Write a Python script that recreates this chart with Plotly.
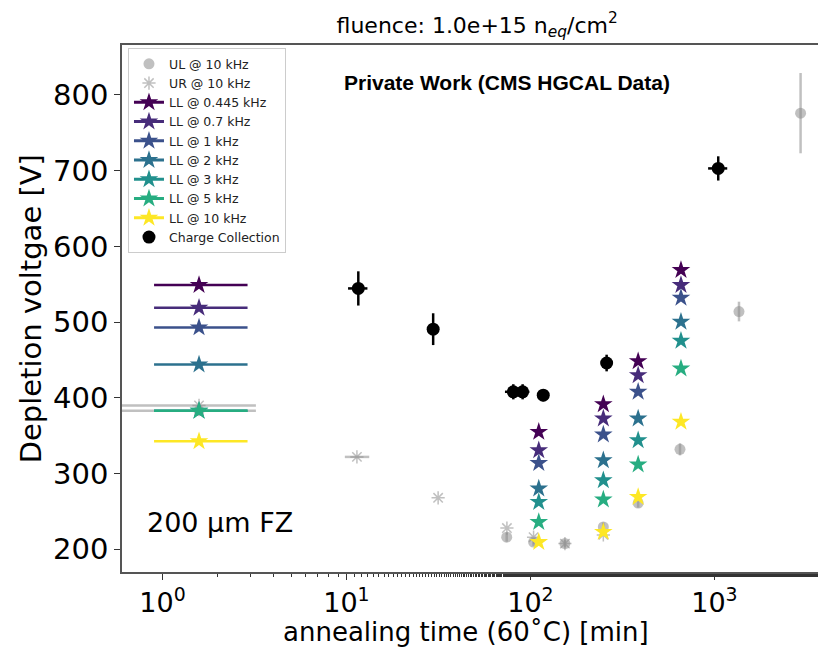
import plotly.graph_objects as go

# ---------------- data ----------------
ll_labels = ["LL @ 0.445 kHz", "LL @ 0.7 kHz", "LL @ 1 kHz", "LL @ 2 kHz",
             "LL @ 3 kHz", "LL @ 5 kHz", "LL @ 10 kHz"]
ll_colors = ["#440154", "#472c7a", "#3b518b", "#2c718e", "#21908d", "#27ad81", "#fde725"]
ll_x = [1.58, 111, 249, 385, 658]
ll_v_0445 = [549, 355, 391.6, 448.4, 568.7]
ll_v_07 = [519, 330.8, 372.7, 429.9, 548.9]
ll_v_1 = [493, 314, 351.6, 407.9, 532.1]
ll_v_2 = [444, 280.2, 317.6, 372.7, 500.4]
ll_v_3 = [383, 262.5, 291.2, 344, 475.3]
ll_v_5 = [383, 236, 265.7, 311.9, 438.8]
ll_v_10 = [342.7, 209.6, 222.9, 269.1, 368.3]
ll_values = [ll_v_0445, ll_v_07, ll_v_1, ll_v_2, ll_v_3, ll_v_5, ll_v_10]
ll_xerr_minus = 0.68
ll_xerr_plus = 1.32

ul_x = [1.58, 74.3, 104, 154, 249, 385, 650, 1360, 2940]
ul_v = [383, 216, 209.6, 207.5, 229.5, 261, 332, 514, 776]
ul_err = [0, 6, 5, 5, 6, 6, 8, 13, 53]
ul_xerr_minus = [1.5, 0, 0, 0, 0, 0, 0, 0, 0]
ul_xerr_plus = [1.64, 0, 0, 0, 0, 0, 0, 0, 0]

ur_x = [1.58, 11.4, 31.5, 74.5, 104, 154, 249]
ur_v = [390, 322, 268, 228, 216, 207.5, 219]
ur_xerr_minus = [1.5, 1.6, 0, 0, 0, 0, 0]
ur_xerr_plus = [1.64, 1.9, 0, 0, 0, 0, 0]

cc_x = [11.6, 29.6, 80.7, 90.7, 117.4, 259.5, 1049]
cc_v = [544.5, 490.7, 408, 408, 403.5, 446, 703]
cc_err = [22.6, 21, 10, 10, 8, 11, 16]
cc_xerr = [1.4, 0, 8, 8, 0, 0, 125]

x_tickvals = [1, 10, 100, 1000]
x_ticktext = ["10<sup>0</sup>", "10<sup>1</sup>", "10<sup>2</sup>", "10<sup>3</sup>"]
y_tickvals = [200, 300, 400, 500, 600, 700, 800]

# ---------------- figure ----------------
fig = go.Figure()
gray_c = "rgba(140,140,140,0.55)"

fig.add_trace(go.Scatter(
    x=ul_x, y=ul_v, mode="markers", name="UL @ 10 kHz",
    marker=dict(symbol="circle", size=11, color=gray_c),
    error_y=dict(type="data", array=ul_err, color=gray_c, thickness=2.5, width=0),
    error_x=dict(type="data", array=ul_xerr_plus, arrayminus=ul_xerr_minus,
                 color=gray_c, thickness=2.5, width=0),
))
fig.add_trace(go.Scatter(
    x=ur_x, y=ur_v, mode="markers", name="UR @ 10 kHz",
    marker=dict(symbol="asterisk-open", size=11, color=gray_c, line=dict(width=1.5, color=gray_c)),
    error_x=dict(type="data", array=ur_xerr_plus, arrayminus=ur_xerr_minus,
                 color=gray_c, thickness=2.5, width=0),
))

for lab, col, vals in zip(ll_labels, ll_colors, ll_values):
    # first point carries the horizontal error bar and the legend entry
    fig.add_trace(go.Scatter(
        x=ll_x[:1], y=vals[:1], mode="lines+markers", name=lab, legendgroup=lab,
        line=dict(color=col, width=3),
        marker=dict(symbol="star", size=14, color=col),
        error_x=dict(type="data", array=[ll_xerr_plus], arrayminus=[ll_xerr_minus],
                     color=col, thickness=2.5, width=0),
    ))
    fig.add_trace(go.Scatter(
        x=ll_x[1:], y=vals[1:], mode="markers", name=lab, legendgroup=lab,
        showlegend=False,
        marker=dict(symbol="star", size=14, color=col),
    ))

fig.add_trace(go.Scatter(
    x=cc_x, y=cc_v, mode="markers", name="Charge Collection",
    marker=dict(symbol="circle", size=13, color="black"),
    error_y=dict(type="data", array=cc_err, color="black", thickness=2.5, width=0),
    error_x=dict(type="data", array=cc_xerr, color="black", thickness=2.5, width=0),
))

fig.update_layout(
    width=826, height=652,
    margin=dict(l=114, r=0, t=37, b=88, autoexpand=False),
    paper_bgcolor="white", plot_bgcolor="white",
    font=dict(family="DejaVu Sans", color="black"),
    title=dict(
        text="fluence: 1.0e+15 n<sub><i>eq</i></sub>/cm<sup>2</sup>",
        x=0.568, xanchor="center", y=0.974, yanchor="middle",
        font=dict(family="DejaVu Sans", size=22, color="black"),
    ),
    showlegend=True,
    legend=dict(
        x=0.0084, y=0.994, xanchor="left", yanchor="top",
        bgcolor="rgba(255,255,255,0.9)", bordercolor="#cccccc", borderwidth=1,
        font=dict(family="DejaVu Sans", size=12.5, color="#222"),
        itemwidth=30, tracegroupgap=0,
    ),
    xaxis=dict(
        type="log", range=[-0.22, 3.65], automargin=False,
        tickvals=x_tickvals, ticktext=x_ticktext,
        tickfont=dict(family="DejaVu Sans", size=27, color="black"),
        ticks="outside", ticklen=6, tickwidth=1, tickcolor="#333",
        showline=True, linecolor="#555", linewidth=1.5, mirror=True,
        showgrid=False, zeroline=False,
        minor=dict(ticks="outside", ticklen=3, tickcolor="#333", showgrid=False),
    ),
    yaxis=dict(
        range=[170, 866], tickvals=y_tickvals, automargin=False,
        tickfont=dict(family="DejaVu Sans", size=29, color="black"),
        ticks="outside", ticklen=6, tickwidth=1, tickcolor="#333",
        showline=True, linecolor="#555", linewidth=1.5, mirror=False,
        showgrid=False, zeroline=False,
    ),
    annotations=[
        dict(text="annealing time (60˚C) [min]", xref="paper", yref="paper",
             x=0.483, y=-0.114, xanchor="center", yanchor="middle", showarrow=False,
             font=dict(family="DejaVu Sans", size=26, color="black")),
        dict(text="Depletion voltgae [V]", xref="paper", yref="paper", textangle=-90,
             x=-0.128, y=0.5, xanchor="center", yanchor="middle", showarrow=False,
             font=dict(family="DejaVu Sans", size=29, color="black")),
        dict(text="<b>Private Work (CMS HGCAL Data)</b>", xref="paper", yref="paper",
             x=0.5407, y=0.928, xanchor="center", yanchor="middle", showarrow=False,
             font=dict(family="Liberation Sans", size=21, color="black")),
        dict(text="200 µm FZ", xref="paper", yref="paper",
             x=0.0323, y=0.093, xanchor="left", yanchor="middle", showarrow=False,
             font=dict(family="DejaVu Sans", size=27, color="black")),
    ],
    shapes=[
        dict(type="line", xref="paper", yref="paper", x0=-0.167, x1=-0.167,
             y0=1.004, y1=0.036, line=dict(color="#666", width=1)),
    ],
)

fig.write_html("out.html")
